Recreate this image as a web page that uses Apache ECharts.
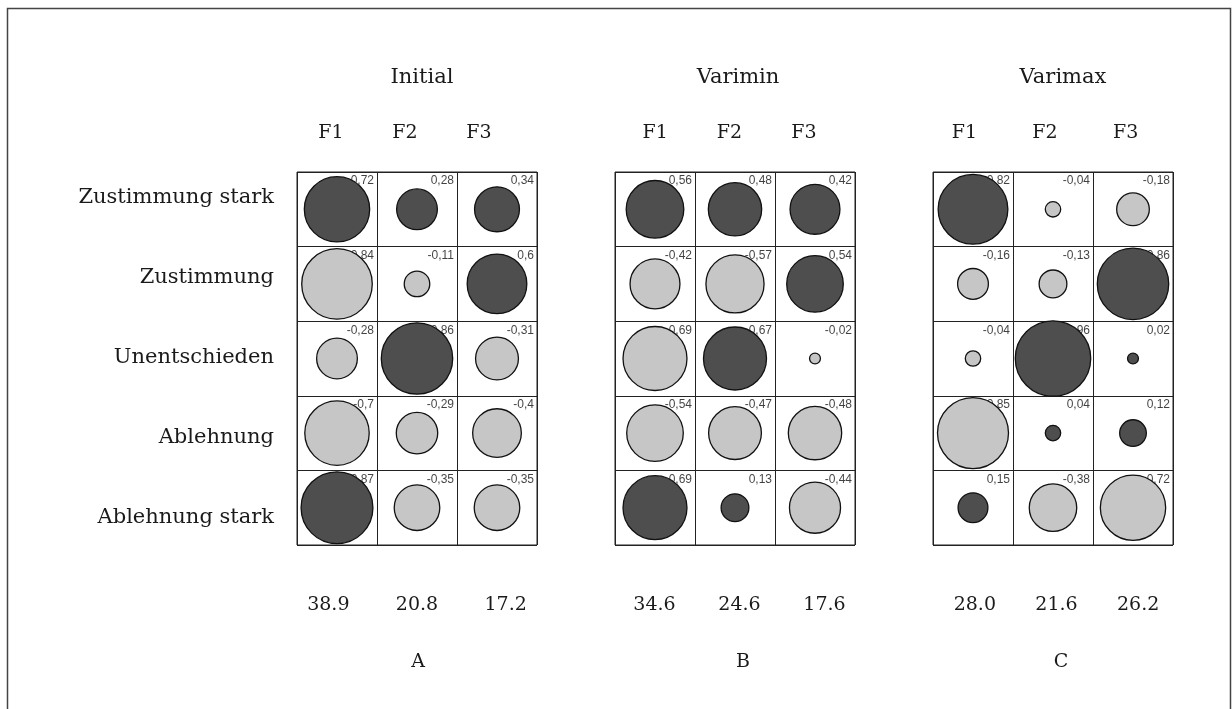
<!DOCTYPE html>
<html>
<head>
<meta charset="utf-8">
<script src="https://cdn.jsdelivr.net/npm/echarts@6/dist/echarts.min.js"></script>
<style>
  html, body { margin: 0; padding: 0; background: #fff; }
  #chart { width: 1232px; height: 709px; }
</style>
</head>
<body>
<div id="chart"></div>
<script>
// data
const rowLabels = ['Zustimmung stark', 'Zustimmung', 'Unentschieden', 'Ablehnung', 'Ablehnung stark'];
const factors = ['F1', 'F2', 'F3'];
const panelTitles = ['Initial', 'Varimin', 'Varimax'];
const panelLetters = ['A', 'B', 'C'];

// loadings, one row per answer category, columns F1..F3
const initialLoadings = [
  [0.72, 0.28, 0.34],
  [-0.84, -0.11, 0.6],
  [-0.28, 0.86, -0.31],
  [-0.7, -0.29, -0.4],
  [0.87, -0.35, -0.35]
];
const variminLoadings = [
  [0.56, 0.48, 0.42],
  [-0.42, -0.57, 0.54],
  [-0.69, 0.67, -0.02],
  [-0.54, -0.47, -0.48],
  [0.69, 0.13, -0.44]
];
const varimaxLoadings = [
  [0.82, -0.04, -0.18],
  [-0.16, -0.13, 0.86],
  [-0.04, 0.96, 0.02],
  [-0.85, 0.04, 0.12],
  [0.15, -0.38, -0.72]
];
// explained variance (%)
const initialVariance = ['38.9', '20.8', '17.2'];
const variminVariance = ['34.6', '24.6', '17.6'];
const varimaxVariance = ['28.0', '21.6', '26.2'];

const loadings = [initialLoadings, variminLoadings, varimaxLoadings];
const variances = [initialVariance, variminVariance, varimaxVariance];

// layout (pixels)
const SERIF = '"DejaVu Serif", serif';
const TEXT = '#1a1a1a';
const cellTop = 172, gridW = 240, gridH = 373;
const cellW = gridW / 3, cellH = gridH / 5;
const gridLeft = [297, 615, 933];
const headGrid = [[294, 222], [618, 223], [924, 242]];   // [left, width]
const numGrid = [[284, 266], [612, 255], [934, 245]];
const titleX = [422, 738, 1063];
const letterX = [418, 743, 1061];

const grids = [], xAxes = [], yAxes = [], series = [];

function labelAxis(gridIdx, cats, fontSize) {
  xAxes.push({
    gridIndex: gridIdx, type: 'category', data: cats,
    axisLine: { show: false }, axisTick: { show: false }, splitLine: { show: false },
    axisLabel: { margin: 0, verticalAlign: 'middle', fontFamily: SERIF, fontSize: fontSize, color: TEXT, interval: 0 }
  });
  yAxes.push({ gridIndex: gridIdx, type: 'value', show: false });
}

for (let p = 0; p < 3; p++) {
  // main cell grid
  const g = grids.length;
  grids.push({ left: gridLeft[p], top: cellTop, width: gridW, height: gridH, show: true, borderColor: '#222', borderWidth: 1 });
  xAxes.push({
    gridIndex: g, type: 'category', data: factors,
    axisLine: { show: false }, axisTick: { show: false }, axisLabel: { show: false },
    splitLine: { show: true, interval: 0, lineStyle: { color: '#222', width: 1 } }
  });
  yAxes.push({
    gridIndex: g, type: 'category', data: rowLabels, inverse: true,
    axisLine: { show: false }, axisTick: { show: false }, axisLabel: { show: false },
    splitLine: { show: true, interval: 0, lineStyle: { color: '#222', width: 1 } }
  });

  const pts = [];
  loadings[p].forEach((row, r) => row.forEach((v, c) => pts.push([c, r, v])));

  // value labels, drawn under the circles
  series.push({
    type: 'scatter', xAxisIndex: g, yAxisIndex: g, z: 2, silent: true,
    symbolSize: 1, itemStyle: { color: 'rgba(0,0,0,0)' },
    data: pts,
    label: {
      show: true, position: 'inside', align: 'right', verticalAlign: 'top',
      offset: [cellW / 2 - 3, -cellH / 2 + 3],
      fontFamily: '"Liberation Sans", Arial, sans-serif', fontSize: 12, color: '#111',
      formatter: d => String(d.data[2]).replace('.', ',')
    }
  });
  // circles, area proportional to |loading|
  series.push({
    type: 'scatter', xAxisIndex: g, yAxisIndex: g, z: 3, silent: true,
    data: pts,
    symbol: 'circle',
    symbolSize: d => 77 * Math.sqrt(Math.abs(d[2])),
    itemStyle: {
      color: d => (d.data[2] >= 0 ? '#4e4e4e' : '#c6c6c6'),
      borderColor: '#111', borderWidth: 1.3, opacity: 1
    }
  });

  // factor header
  const h = grids.length;
  grids.push({ left: headGrid[p][0], width: headGrid[p][1], top: 132, height: 1 });
  labelAxis(h, factors, 19);

  // explained variance row
  const n = grids.length;
  grids.push({ left: numGrid[p][0], width: numGrid[p][1], top: 604, height: 1 });
  labelAxis(n, variances[p], 19);
}

// row labels
const rg = grids.length;
grids.push({ left: 280, top: 158, width: 1, height: 400 });
xAxes.push({ gridIndex: rg, type: 'value', show: false });
yAxes.push({
  gridIndex: rg, type: 'category', data: rowLabels, inverse: true,
  axisLine: { show: false }, axisTick: { show: false }, splitLine: { show: false },
  axisLabel: { margin: 6, fontFamily: SERIF, fontSize: 21, color: TEXT, interval: 0 }
});

const graphics = [{
  type: 'rect', silent: true,
  shape: { x: 7.5, y: 8.5, width: 1223, height: 760 },
  style: { fill: null, stroke: '#444', lineWidth: 1.5 }
}];
panelTitles.forEach((t, i) => graphics.push({
  type: 'text', x: titleX[i], y: 78, silent: true,
  style: { text: t, align: 'center', verticalAlign: 'middle', font: '21px ' + SERIF, fill: TEXT }
}));
panelLetters.forEach((t, i) => graphics.push({
  type: 'text', x: letterX[i], y: 662, silent: true,
  style: { text: t, align: 'center', verticalAlign: 'middle', font: '19px ' + SERIF, fill: TEXT }
}));

const chart = echarts.init(document.getElementById('chart'));
chart.setOption({
  animation: false,
  backgroundColor: '#fff',
  grid: grids,
  xAxis: xAxes,
  yAxis: yAxes,
  series: series,
  graphic: graphics
});
</script>
</body>
</html>
